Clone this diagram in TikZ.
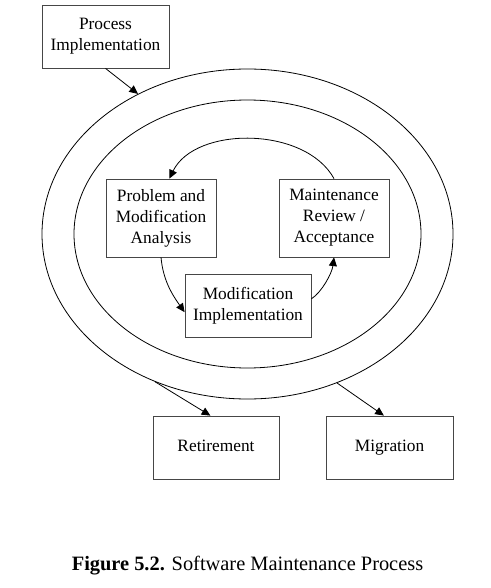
\documentclass[tikz,border=0pt]{standalone}
\usepackage{fontspec}
\setmainfont{Liberation Serif}
\usetikzlibrary{shapes.geometric,arrows.meta}

\begin{document}
\begin{tikzpicture}[x=0.75pt,y=0.75pt,yscale=-1,xscale=1,
  stage/.style={draw={rgb, 255:red, 70; green, 70; blue, 70}, line width=0.6pt, inner sep=0pt, align=center, font=\fontsize{13}{15.75}\selectfont},
  ring/.style={draw, ellipse, inner sep=0pt, line width=0.6pt},
  flow/.style={-{Triangle[length=6.5pt,width=6pt]}, line width=0.6pt}]
\useasboundingbox (0,0) rectangle (491,588);

%Shape: Ellipse [id:outer]
\node [ring, minimum width=308.25pt, minimum height=247.5pt] (outer) at (247.5,234) {};
%Shape: Ellipse [id:inner]
\node [ring, minimum width=260.25pt, minimum height=201pt] (inner) at (247.5,234) {};

% Text Node
\node [stage, minimum width=95.25pt, minimum height=47.25pt] (procimpl) at (105.5,36.5) {Process\\Implementation};
% Text Node
\node [stage, minimum width=82.5pt, minimum height=58.5pt] (analysis) at (161,218) {Problem and\\Modification\\Analysis};
% Text Node
\node [stage, minimum width=82.5pt, minimum height=58.5pt] (review) at (334,218) {Maintenance\\Review /\\Acceptance};
% Text Node
\node [stage, minimum width=94.5pt, minimum height=47.25pt] (modimpl) at (248,305.5) {Modification\\Implementation};
% Text Node
\node [stage, minimum width=94.5pt, minimum height=47.25pt, text height=0.66em, text depth=0pt] (retire) at (216,447.5) {Retirement};
% Text Node
\node [stage, minimum width=95.25pt, minimum height=47.25pt, text height=0.66em, text depth=0pt] (migrate) at (389.5,447.5) {Migration};
% Text Node
\node [font=\fontsize{15.3}{18}\selectfont] (caption) at (247.5,566) {\textbf{Figure 5.2.} Software Maintenance Process};

%Straight Lines [id:pi]
\draw [flow] (procimpl.south) -- (outer.128.5);
%Curve Lines [id:top]
\draw [flow] (review.north) .. controls (305,126) and (195,126) .. (analysis.78);
%Curve Lines [id:down]
\draw [flow] (analysis.south) .. controls (163,279) and (171,293) .. (modimpl.186);
%Curve Lines [id:up]
\draw [flow] (modimpl.6) .. controls (322,292) and (332,273) .. (review.south);
%Straight Lines [id:ret]
\draw [flow] (outer.238.7) -- (retire.100);
%Straight Lines [id:mig]
\draw [flow] (outer.301.6) -- (migrate.100);
\end{tikzpicture}
\end{document}
